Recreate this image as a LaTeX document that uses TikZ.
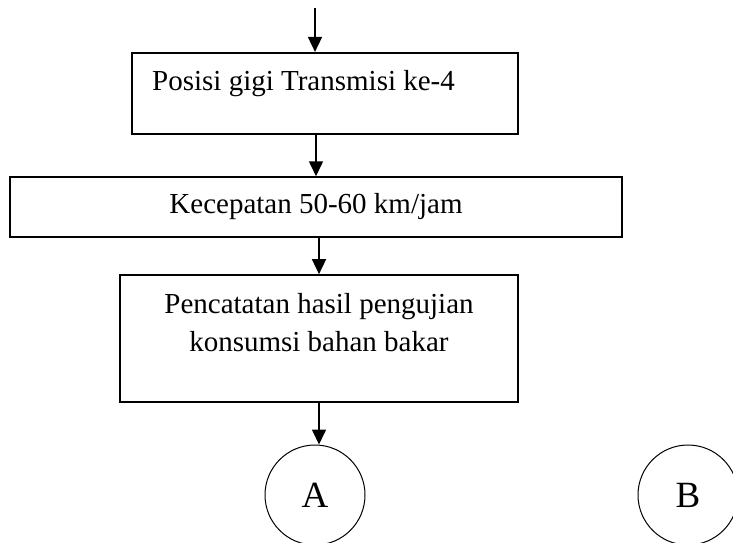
\documentclass[tikz,border=0pt]{standalone}
\usepackage{fontspec}
\setmainfont{Liberation Serif}
\usetikzlibrary{arrows.meta}

\begin{document}
\begin{tikzpicture}[x=1pt,y=-1pt,
    every node/.style={font=\fontsize{29}{38}\selectfont},
    box/.style={draw, line width=1.5pt, rectangle, inner sep=0pt},
    txt/.style={inner sep=0pt, align=center},
    conn/.style={draw, circle, line width=1pt, minimum size=100pt, inner sep=0pt,
      font=\fontsize{37}{40}\selectfont},
    flow/.style={line width=1.6pt, -{Triangle[length=15pt,width=14pt]}}]
    \useasboundingbox (0,0) rectangle (733,542);

    % Boxes of the flow
    \node[box, line width=2.2pt, minimum width=386pt, minimum height=81pt] (gigi) at (325,93.5) {};
    \node[txt, anchor=base west] (gigitext) at (152,90) {Posisi gigi Transmisi ke-4};

    \node[box, minimum width=612pt, minimum height=60pt] (kec) at (316,207) {Kecepatan 50-60 km/jam};

    \node[box, line width=1.7pt, minimum width=398pt, minimum height=127pt] (catat) at (319,338.5) {};
    \node[txt, anchor=north] (catattext) at (319,293) {Pencatatan hasil pengujian\\ konsumsi bahan bakar};

    % Connectors
    \node[conn] (A) at (315,495) {A};
    \node[conn] (B) at (688,495) {B};

    % Arrows between the steps
    \coordinate (top) at (315,8);
    \draw[flow] (top) -- (top |- gigi.north);
    \draw[flow] (gigi.south -| kec.north) -- (kec.north);
    \draw[flow] (kec.south -| catat.north) -- (catat.north);
    \draw[flow] (catat.south) -- (catat.south |- A.north);
\end{tikzpicture}
\end{document}
